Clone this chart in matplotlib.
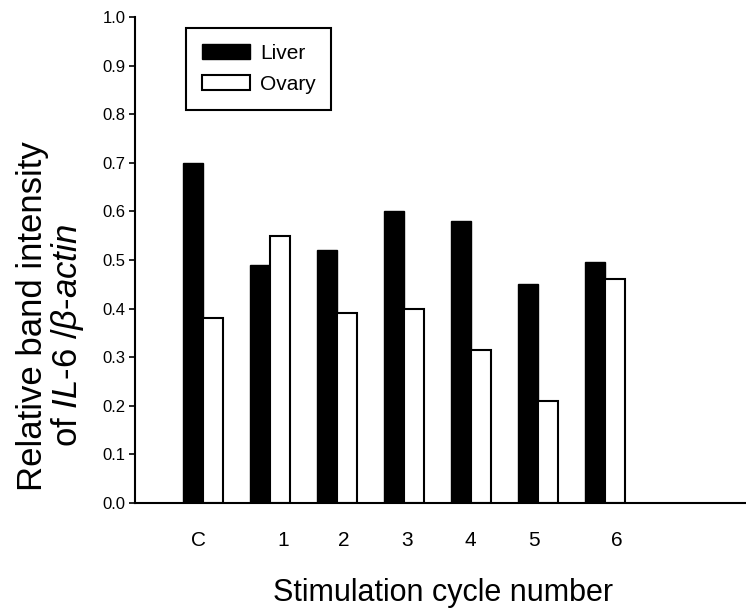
import matplotlib
matplotlib.use("Agg")
import matplotlib.pyplot as plt
import numpy as np

plt.rcParams['font.family'] = ['Liberation Sans', 'DejaVu Sans']
plt.rcParams['mathtext.fontset'] = 'custom'
plt.rcParams['mathtext.rm'] = 'Liberation Sans'
plt.rcParams['mathtext.it'] = 'Liberation Sans:italic'

categories = ["C", "1", "2", "3", "4", "5", "6"]
liver = [0.70, 0.49, 0.52, 0.60, 0.58, 0.45, 0.495]
ovary = [0.38, 0.55, 0.39, 0.40, 0.315, 0.21, 0.46]
yticks = [0.0, 0.1, 0.2, 0.3, 0.4, 0.5, 0.6, 0.7, 0.8, 0.9, 1.0]
# label positions (slightly offset from the bar pairs, as in the original)
label_pos = [-0.075, 1.19, 2.1, 3.04, 3.99, 4.93, 6.18]

fig = plt.figure(figsize=(7.46, 6.12), dpi=100)
ax = fig.add_axes([135/746, 1-503/612, 1-135/746, (503-17)/612])

x = np.arange(len(categories))
w = 0.3
ax.bar(x - w/2, liver, width=w, color='black', edgecolor='black', linewidth=1.0, label='Liver')
ax.bar(x + w/2, ovary, width=w, color='white', edgecolor='black', linewidth=1.5, label='Ovary')

ax.set_xlim(-1.015, 8.1)
ax.set_ylim(0, 1.0)
ax.set_yticks(yticks)
ax.set_yticklabels([f"{v:.1f}" for v in yticks], fontsize=12)
ax.set_xticks(label_pos)
ax.set_xticklabels(categories, fontsize=15)
ax.tick_params(axis='x', length=0, pad=20)
ax.tick_params(axis='y', direction='out', length=4, width=1.2, pad=3)
for s in ['top', 'right']:
    ax.spines[s].set_visible(False)
ax.spines['left'].set_linewidth(1.5)
ax.spines['bottom'].set_linewidth(1.5)

leg = ax.legend(loc='upper left', bbox_to_anchor=(186/746, 1-28/612),
                bbox_transform=fig.transFigure, borderaxespad=0,
                fontsize=15, handlelength=2.3, handleheight=0.72,
                handletextpad=0.5, labelspacing=0.6, borderpad=0.75,
                fancybox=False, framealpha=1, edgecolor='black')
leg.get_frame().set_linewidth(1.5)

fig.text(33/746, 1-316/612, "Relative band intensity", rotation=90,
         ha='center', va='center', fontsize=25)
fig.text(68/746, 1-335/612, r"of $\mathit{IL}$-$\mathit{6}$ /$\mathit{\beta}$-$\mathit{actin}$",
         rotation=90, ha='center', va='center', fontsize=25)
fig.text(443/746, 1-593/612, "Stimulation cycle number", ha='center', va='center', fontsize=22)

fig.savefig("out.png", dpi=100)
